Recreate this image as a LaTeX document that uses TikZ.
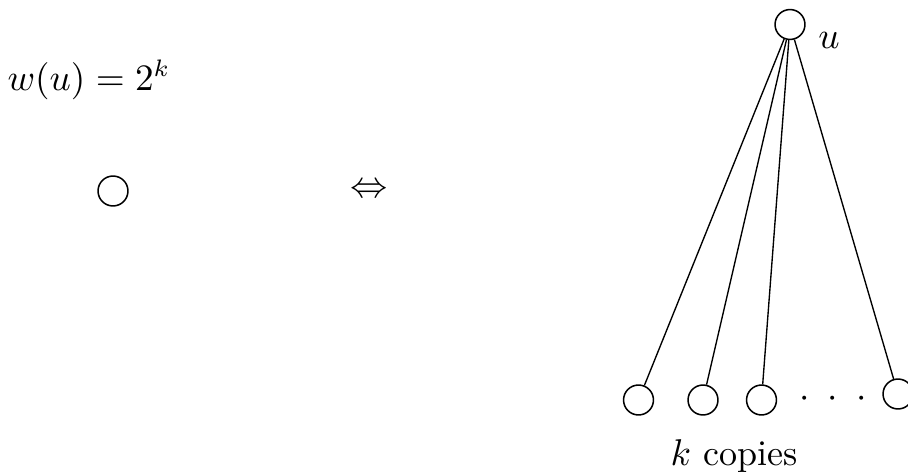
\documentclass[tikz,border=0pt]{standalone}
\begin{document}
\begin{tikzpicture}[x=0.294pt, y=-0.294pt,
  vtx/.style={circle, draw, line width=0.45pt, inner sep=0pt, minimum size=8.8pt},
  lbl/.style={inner sep=0pt, font=\fontsize{10.6}{12}\selectfont},
  edge/.style={line width=0.4pt}]
\useasboundingbox (0,0) rectangle (908,471);
\node[lbl, anchor=base] (w) at (89,90) {$w(u) = 2^k$};
\node[vtx] (v) at (113,191) {};
\node[lbl] (iff) at (369.5,190.5) {$\Leftrightarrow$};
\node[vtx] (u) at (790,24.5) {};
\node[lbl, anchor=base] (ul) at (829,48) {$u$};
\node[vtx] (b1) at (638.5,400) {};
\node[vtx] (b2) at (703,400) {};
\node[vtx] (b3) at (761.5,400) {};
\node[vtx] (b4) at (898,394) {};
\node[lbl] (d1) at (805,399) {$\cdot$};
\node[lbl] (d2) at (833,399) {$\cdot$};
\node[lbl] (d3) at (862,399) {$\cdot$};
\node[lbl, anchor=base] (kc) at (734,465) {$k$ copies};
\draw[edge] (u) -- (b1);
\draw[edge] (u) -- (b2);
\draw[edge] (u) -- (b3);
\draw[edge] (u) -- (b4);
\end{tikzpicture}
\end{document}
